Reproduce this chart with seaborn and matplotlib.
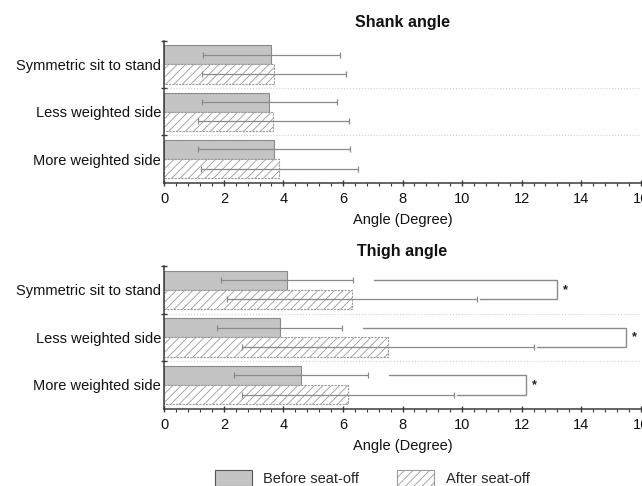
import numpy as np
import pandas as pd
import matplotlib
matplotlib.use("Agg")
import matplotlib.pyplot as plt
from matplotlib.patches import Patch
from matplotlib.ticker import MultipleLocator, FixedLocator
import seaborn as sns

# ---------------- data ----------------
categories = ["Symmetric sit to stand", "Less weighted side", "More weighted side"]
phases = ["Before seat-off", "After seat-off"]

shank_before_mean = [3.60, 3.53, 3.69]
shank_before_sd = [2.31, 2.27, 2.56]
shank_after_mean = [3.69, 3.66, 3.86]
shank_after_sd = [2.42, 2.53, 2.63]

thigh_before_mean = [4.12, 3.88, 4.58]
thigh_before_sd = [2.21, 2.10, 2.25]
thigh_after_mean = [6.30, 7.52, 6.17]
thigh_after_sd = [4.21, 4.90, 3.57]

# significance bracket right edges (thigh panel only)
thigh_sig_right = [13.18, 15.49, 12.14]
sig_label = "*"

x_ticks = [0, 2, 4, 6, 8, 10, 12, 14, 16]

# ---------------- style ----------------
sns.set_theme(style="white")
plt.rcParams["font.family"] = ["Liberation Sans", "DejaVu Sans"]
plt.rcParams["hatch.linewidth"] = 0.6
plt.rcParams["hatch.color"] = "#9a9a9a"

FS = 10.5
BEFORE_FILL = "#c4c4c4"
BEFORE_EDGE = "#8a8a8a"
AFTER_FILL = "#ffffff"
AFTER_EDGE = "#9a9a9a"
ERR_COLOR = "#8a8a8a"
SPINE = "#3a3a3a"

fig = plt.figure(figsize=(6.42, 4.86), dpi=100)
W, H = 642, 486
left = 164.3 / W
width = (640.7 - 164.3) / W
ax1 = fig.add_axes([left, 1 - 182.7 / H, width, (182.7 - 40.7) / H])
ax2 = fig.add_axes([left, 1 - 408.7 / H, width, (408.7 - 266.0) / H])


def make_df(bm, am):
    rows = []
    for c, b, a in zip(categories, bm, am):
        rows.append({"category": c, "phase": phases[0], "angle": b})
        rows.append({"category": c, "phase": phases[1], "angle": a})
    return pd.DataFrame(rows)


def draw_panel(ax, title, title_pad, bm, bsd, am, asd, sig_right=None):
    df = make_df(bm, am)
    sns.barplot(data=df, y="category", x="angle", hue="phase", orient="h",
                order=categories, hue_order=phases, width=0.81,
                palette={phases[0]: BEFORE_FILL, phases[1]: AFTER_FILL},
                errorbar=None, ax=ax, legend=False, saturation=1)
    before_bars = list(ax.containers[0])
    after_bars = list(ax.containers[1])
    for p in before_bars:
        p.set_facecolor(BEFORE_FILL)
        p.set_edgecolor(BEFORE_EDGE)
        p.set_linewidth(0.8)
    for p in after_bars:
        p.set_facecolor(AFTER_FILL)
        p.set_edgecolor(AFTER_EDGE)
        p.set_hatch("////")
        p.set_linewidth(0.8)
        p.set_linestyle((0, (2, 1)))

    yb = [p.get_y() + p.get_height() / 2 for p in before_bars]
    ya = [p.get_y() + p.get_height() / 2 for p in after_bars]
    ax.errorbar(bm, yb, xerr=bsd, fmt="none", ecolor=ERR_COLOR,
                elinewidth=0.9, capsize=2.5, capthick=0.9, zorder=5)
    ax.errorbar(am, ya, xerr=asd, fmt="none", ecolor=ERR_COLOR,
                elinewidth=0.9, capsize=2.5, capthick=0.9, zorder=5)

    if sig_right is not None:
        for i in range(len(categories)):
            x_top = bm[i] + bsd[i] + 0.7
            x_bot = am[i] + asd[i] + 0.1
            xr = sig_right[i]
            ax.plot([x_top, xr, xr, x_bot], [yb[i], yb[i], ya[i], ya[i]],
                    color=ERR_COLOR, lw=1.0, zorder=5, solid_joinstyle="miter")
            ax.text(xr + 0.22, (yb[i] + ya[i]) / 2, sig_label, ha="left",
                    va="center", fontsize=9, fontweight="bold", color="#222222")

    # separators between categories
    for b in [0.5, 1.5]:
        ax.axhline(b, color="#cfcfcf", lw=0.8, ls=":", zorder=0)

    ax.set_xlim(0, 16)
    ax.set_ylim(2.5, -0.5)
    ax.xaxis.set_major_locator(FixedLocator(x_ticks))
    ax.xaxis.set_minor_locator(MultipleLocator(0.4))
    ax.yaxis.set_minor_locator(FixedLocator([-0.5, 0.5, 1.5]))
    ax.tick_params(axis="x", which="major", direction="inout", length=5,
                   width=1, colors=SPINE, labelsize=FS, pad=4.0,
                   labelcolor="#111111", bottom=True)
    ax.tick_params(axis="x", which="minor", direction="out", length=2.5,
                   width=0.8, colors=SPINE, bottom=True)
    ax.tick_params(axis="y", which="major", length=0, pad=2.4,
                   labelsize=FS, labelcolor="#111111")
    ax.tick_params(axis="y", which="minor", direction="inout", length=4,
                   width=1, colors=SPINE, left=True)
    for s in ["top", "right"]:
        ax.spines[s].set_visible(False)
    for s in ["left", "bottom"]:
        ax.spines[s].set_color(SPINE)
        ax.spines[s].set_linewidth(1.1)
    ax.set_ylabel("")
    ax.set_xlabel("Angle (Degree)", fontsize=FS, labelpad=5, color="#111111")
    ax.set_title(title, fontsize=11.5, fontweight="bold", pad=title_pad,
                 color="#111111")


draw_panel(ax1, "Shank angle", 10, shank_before_mean, shank_before_sd,
           shank_after_mean, shank_after_sd)
draw_panel(ax2, "Thigh angle", 7.4, thigh_before_mean, thigh_before_sd,
           thigh_after_mean, thigh_after_sd, sig_right=thigh_sig_right)

handles = [
    Patch(facecolor=BEFORE_FILL, edgecolor="#555555", linewidth=0.8),
    Patch(facecolor=AFTER_FILL, edgecolor=AFTER_EDGE, hatch="////",
          linewidth=0.8),
]
fig.legend(handles, phases, loc="center", bbox_to_anchor=(0.58, 1 - 478 / H),
           ncol=2, frameon=False, fontsize=FS, handlelength=2.5,
           handleheight=1.3, handletextpad=0.8, columnspacing=2.6,
           borderpad=0, borderaxespad=0)

fig.savefig("out.png", dpi=100)
